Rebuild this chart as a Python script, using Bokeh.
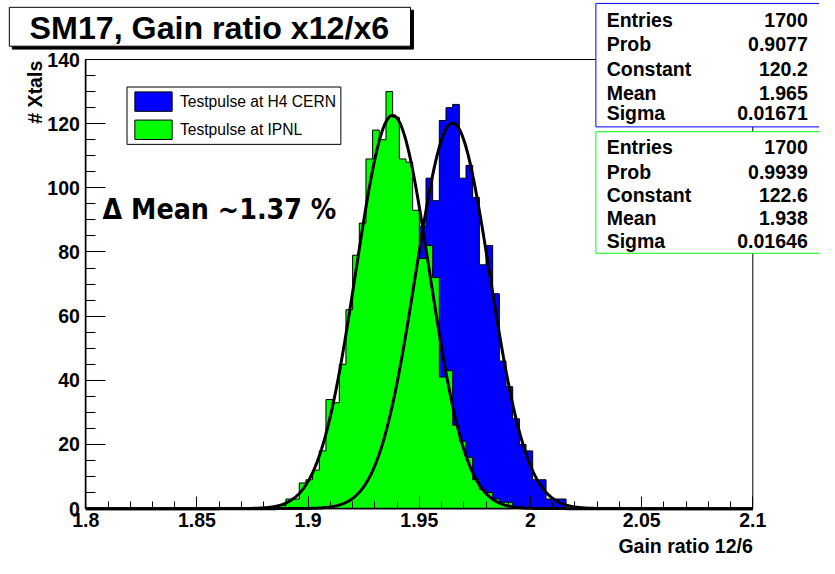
import numpy as np
from bokeh.plotting import figure
from bokeh.models import (FixedTicker, CustomJSTickFormatter, Label, BoxAnnotation, Range1d)
from bokeh.embed import file_html
from bokeh.resources import INLINE

# ---------------- data ----------------
bin_low = 1.8
bin_width = 0.003
green_first_bin = 28
green_counts = [0, 1, 3, 3, 8, 9, 12, 18, 34, 33, 45, 62, 79, 89, 109, 118, 115, 130,
                122, 109, 108, 93, 78, 82, 72, 41, 43, 26, 21, 16, 9, 6, 5, 3, 2, 2]
blue_first_bin = 39
blue_counts = [1, 2, 4, 8, 12, 20, 28, 40, 52, 66, 80, 88, 103, 96, 121, 125, 126, 103,
               107, 97, 76, 82, 67, 46, 38, 28, 20, 18, 9, 9, 3, 3, 3]

blue_fit = {"Constant": 120.2, "Mean": 1.965, "Sigma": 0.01671}
green_fit = {"Constant": 122.6, "Mean": 1.938, "Sigma": 0.01646}

blue_stats_names = ["Entries", "Prob", "Constant", "Mean", "Sigma"]
blue_stats_values = ["1700", "0.9077", "120.2", "1.965", "0.01671"]
green_stats_names = ["Entries", "Prob", "Constant", "Mean", "Sigma"]
green_stats_values = ["1700", "0.9939", "122.6", "1.938", "0.01646"]

x_major_ticks = [1.8, 1.85, 1.9, 1.95, 2.0, 2.05, 2.1]
y_major_ticks = [0, 20, 40, 60, 80, 100, 120, 140]

title_text = "SM17, Gain ratio x12/x6"
legend_labels = ["Testpulse at H4 CERN", "Testpulse at IPNL"]
annotation_text = "\u0394 Mean ~1.37 %"
x_title = "Gain ratio 12/6"
y_title = "# Xtals"

# ---------------- layout ----------------
W, H = 819, 558
REF_W, REF_H = 835, 574
S_X, S_Y = W / REF_W, H / REF_H
FS = (S_X + S_Y) / 2
FONT = "Liberation Sans"


def cx(rx):
    return rx * S_X


def cy(ry):
    return H - ry * S_Y


def fsz(px):
    return "%.1fpx" % (px * FS)


# plot area inside the canvas (canvas pixels from top-left)
AX_L, AX_R = cx(87.0), cx(767.0)
AX_T, AX_B = 60.7 * S_Y, 522.7 * S_Y
xmin, xmax = x_major_ticks[0], x_major_ticks[-1]
ymin, ymax = y_major_ticks[0], y_major_ticks[-1]
sx = (AX_R - AX_L) / (xmax - xmin)
sy = (AX_B - AX_T) / (ymax - ymin)
x_range = Range1d(xmin - AX_L / sx, xmax + (W - AX_R) / sx)
y_range = Range1d(ymin - (H - AX_B) / sy, ymax + AX_T / sy)

p = figure(width=W, height=H, min_border=0,
           x_range=x_range, y_range=y_range,
           output_backend="svg", toolbar_location=None)
p.min_border_left = p.min_border_right = p.min_border_top = p.min_border_bottom = 0
p.xgrid.visible = False
p.ygrid.visible = False
p.outline_line_color = None
p.background_fill_color = "white"
p.border_fill_color = "white"

# frame box
p.quad(left=[xmin], right=[xmax], bottom=[ymin], top=[ymax],
       fill_color=None, line_color="black", line_width=1)


def step_polygon(first_bin, counts):
    xs, ys = [], []
    xs.append(bin_low + first_bin * bin_width)
    ys.append(0)
    for i, c in enumerate(counts):
        a = bin_low + (first_bin + i) * bin_width
        b = a + bin_width
        xs += [a, b]
        ys += [c, c]
    xs.append(bin_low + (first_bin + len(counts)) * bin_width)
    ys.append(0)
    return xs, ys


bx, by = step_polygon(blue_first_bin, blue_counts)
gx, gy = step_polygon(green_first_bin, green_counts)
p.patch(bx, by, fill_color="#0000ff", line_color="black", line_width=1)
p.patch(gx, gy, fill_color="#00ff00", line_color="black", line_width=1)

xf = np.linspace(xmin, xmax, 900)
for fit in (blue_fit, green_fit):
    yf = fit["Constant"] * np.exp(-0.5 * ((xf - fit["Mean"]) / fit["Sigma"]) ** 2)
    p.line(xf, yf, line_color="black", line_width=3)

# axes
xminor = [round(xmin + 0.01 * i, 3) for i in range(31)]
yminor = list(range(0, 141, 5))
p.xaxis.ticker = FixedTicker(ticks=x_major_ticks, minor_ticks=xminor)
p.yaxis.ticker = FixedTicker(ticks=y_major_ticks, minor_ticks=yminor)
p.xaxis.formatter = CustomJSTickFormatter(code="return String(parseFloat(tick.toFixed(3)));")
p.xaxis.fixed_location = ymin
p.yaxis.fixed_location = xmin
p.xaxis.bounds = (xmin, xmax)
p.yaxis.bounds = (ymin, ymax)
for ax in (p.xaxis, p.yaxis):
    ax.major_label_text_font = FONT
    ax.major_label_text_font_style = "bold"
    ax.major_label_text_font_size = fsz(20)
    ax.major_label_text_color = "black"
    ax.axis_line_color = "black"
    ax.axis_line_width = 1.5
    ax.major_tick_line_color = "black"
    ax.minor_tick_line_color = "black"
    ax.major_tick_out = 0
    ax.minor_tick_out = 0
p.xaxis.major_tick_in = 12
p.xaxis.minor_tick_in = 7
p.yaxis.major_tick_in = 20
p.yaxis.minor_tick_in = 10
p.xaxis.major_label_standoff = 4
p.yaxis.major_label_standoff = 6


def box(l, t, r, b, fill="white", line="black", lw=1):
    bb = BoxAnnotation(left=cx(l), right=cx(r), top=cy(t), bottom=cy(b),
                       left_units="screen", right_units="screen",
                       top_units="screen", bottom_units="screen",
                       fill_color=fill, fill_alpha=1.0, line_color=line,
                       line_alpha=1.0, line_width=lw, level="overlay")
    p.add_layout(bb)


def label(x, y, text, size, align="left", style="bold", font=FONT, angle=0, baseline="middle"):
    lb = Label(x=cx(x), y=cy(y), x_units="screen", y_units="screen", text=text,
               text_font=font, text_font_style=style, text_font_size=fsz(size),
               text_align=align, text_baseline=baseline, angle=angle,
               text_color="black", level="overlay")
    p.add_layout(lb)


# title with shadow
box(12, 10, 421, 50, fill="black", line="black")
box(9, 7, 418, 47, fill="white", line="black")
label(213, 28, title_text, 33, align="center")

# legend
box(129, 89, 347, 148)
box(137, 94, 175, 114, fill="#0000ff")
box(137, 123, 175, 143, fill="#00ff00")
label(183, 104, legend_labels[0], 16, style="normal")
label(183, 133, legend_labels[1], 16, style="normal")

# annotation
label(104, 215, annotation_text, 29, font="DejaVu Sans Condensed")

# stats boxes
box(607, 3, 900, 130, fill="white", line="#0000ff")
box(607, 135, 900, 260, fill="white", line="#00ff00")
ys1 = [20, 45, 70, 95, 116]
ys2 = [151, 176, 200, 224, 247]
for name, val, yy in zip(blue_stats_names, blue_stats_values, ys1):
    label(618, yy, name, 20)
    label(823, yy, val, 20, align="right")
for name, val, yy in zip(green_stats_names, green_stats_values, ys2):
    label(618, yy, name, 20)
    label(823, yy, val, 20, align="right")

# axis titles
label(767, 561, x_title, 20, align="right")
label(35, 62, y_title, 20, align="right", angle=np.pi / 2)

open("out.html", "w").write(file_html(p, INLINE))
